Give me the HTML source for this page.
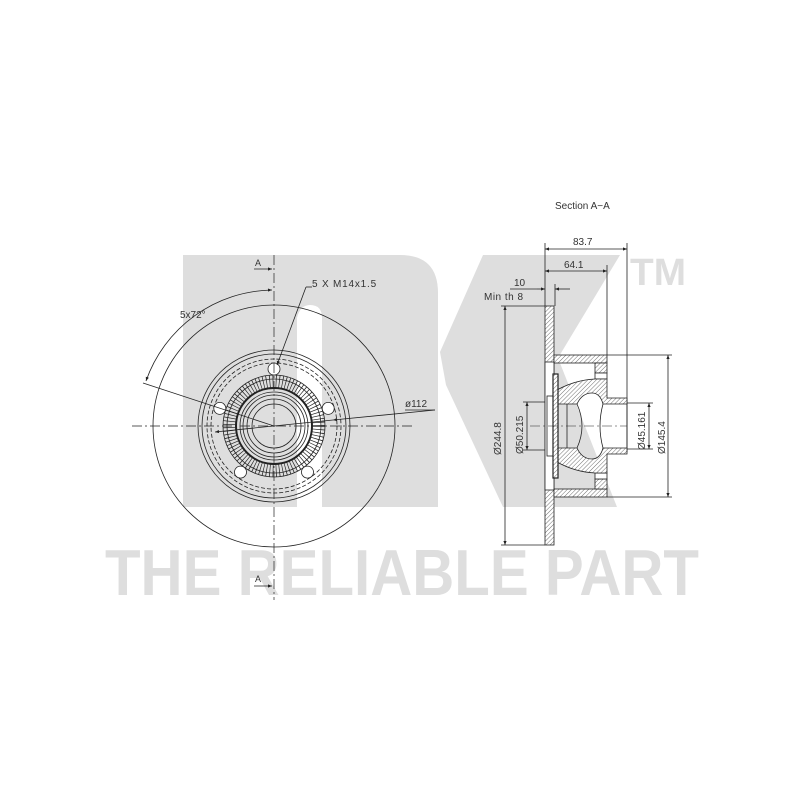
<!DOCTYPE html>
<html><head><meta charset="utf-8"><style>
html,body{margin:0;padding:0;background:#fff;}
svg{display:block;}
text{font-family:"Liberation Sans",sans-serif;}
</style></head><body>
<svg width="800" height="800" viewBox="0 0 800 800" xmlns="http://www.w3.org/2000/svg">
<defs>
<pattern id="h" width="3" height="3" patternUnits="userSpaceOnUse" patternTransform="rotate(45)">
<rect width="3" height="3" fill="#fff"/><line x1="0" y1="0" x2="0" y2="3" stroke="#333" stroke-width="0.7"/>
</pattern>
<marker id="ar" viewBox="0 0 10 10" refX="10" refY="5" markerWidth="7" markerHeight="5" orient="auto-start-reverse"><path d="M0,1 L10,5 L0,9 z" fill="#222"/></marker>
</defs>
<!-- watermark -->
<g fill="#dedede">
<path d="M183,255 H400 Q438,255 438,293 V507 H322 V318 Q322,305 310,305 Q300,305 297,318 V507 H183 Z"/>
<polygon points="483,255 620,255 558,358 617,507 503,507 446,385 440,352"/>
<text x="630" y="285" font-size="38" font-weight="bold" textLength="56" lengthAdjust="spacingAndGlyphs">TM</text>
<text x="105" y="595" font-size="65" font-weight="bold" textLength="594" lengthAdjust="spacingAndGlyphs">THE RELIABLE PART</text>
</g>
<g fill="none" stroke="#222" stroke-width="0.8">
<!-- left view -->
<circle cx="274" cy="426" r="121"/>
<circle cx="274" cy="426" r="76"/>
<circle cx="274" cy="426" r="72"/>
<circle cx="274" cy="426" r="67" stroke-dasharray="4 2"/>
<circle cx="274" cy="426" r="63" stroke-dasharray="4 2"/>
<circle cx="274" cy="426" r="44.5" stroke-dasharray="0.7 2.5" stroke-width="13"/>
<circle cx="274" cy="426" r="51"/>
<circle cx="274" cy="426" r="47"/>
<circle cx="274" cy="426" r="38" stroke-width="2"/>
<circle cx="274" cy="426" r="34"/>
<circle cx="274" cy="426" r="31"/>
<circle cx="274" cy="426" r="27"/>
<circle cx="274" cy="426" r="22"/>
<circle cx="274" cy="369" r="6" fill="#fff"/>
<circle cx="328.2" cy="408.4" r="6" fill="#fff"/>
<circle cx="307.5" cy="472.1" r="6" fill="#fff"/>
<circle cx="240.5" cy="472.1" r="6" fill="#fff"/>
<circle cx="219.8" cy="408.4" r="6" fill="#fff"/>
<!-- centerlines -->
<line x1="274" y1="255" x2="274" y2="600" stroke-dasharray="10 3 2 3" stroke-width="0.7"/>
<line x1="132" y1="426" x2="415" y2="426" stroke-dasharray="10 3 2 3" stroke-width="0.7"/>
<!-- A markers -->
<line x1="254" y1="269" x2="272" y2="269" marker-end="url(#ar)"/>
<line x1="254" y1="586" x2="272" y2="586" marker-end="url(#ar)"/>
<!-- 5x72 arc -->
<path d="M272,290 A136,136 0 0 0 146,381" marker-start="url(#ar)" marker-end="url(#ar)"/>
<line x1="143" y1="383" x2="274" y2="426"/>
<!-- M14 leader -->
<line x1="312" y1="287" x2="306" y2="287"/>
<line x1="306" y1="287" x2="277" y2="365" marker-end="url(#ar)"/>
<!-- ø112 -->
<line x1="435" y1="410" x2="333" y2="420" marker-end="url(#ar)"/>
<line x1="333" y1="420" x2="215" y2="432" marker-end="url(#ar)"/>
<line x1="405" y1="410" x2="435" y2="410"/>

<!-- right view dims -->
<line x1="545" y1="243" x2="545" y2="306"/>
<line x1="627" y1="243" x2="627" y2="452"/>
<line x1="545" y1="249" x2="627" y2="249" marker-start="url(#ar)" marker-end="url(#ar)"/>
<line x1="607" y1="265" x2="607" y2="355"/>
<line x1="545" y1="271" x2="607" y2="271" marker-start="url(#ar)" marker-end="url(#ar)"/>
<line x1="555" y1="284" x2="555" y2="306"/>
<line x1="537" y1="289" x2="545" y2="289" marker-end="url(#ar)"/>
<line x1="570" y1="289" x2="555" y2="289" marker-end="url(#ar)"/>
<line x1="510" y1="289" x2="537" y2="289"/>
<line x1="501" y1="306" x2="545" y2="306"/>
<line x1="501" y1="545" x2="545" y2="545"/>
<line x1="505" y1="306" x2="505" y2="545" marker-start="url(#ar)" marker-end="url(#ar)"/>
<line x1="523" y1="402" x2="548" y2="402"/>
<line x1="523" y1="450" x2="548" y2="450"/>
<line x1="527" y1="402" x2="527" y2="450" marker-start="url(#ar)" marker-end="url(#ar)"/>
<line x1="625" y1="403" x2="653" y2="403"/>
<line x1="625" y1="449" x2="653" y2="449"/>
<line x1="649" y1="403" x2="649" y2="449" marker-start="url(#ar)" marker-end="url(#ar)"/>
<line x1="607" y1="355" x2="672" y2="355"/>
<line x1="607" y1="497" x2="672" y2="497"/>
<line x1="668" y1="355" x2="668" y2="497" marker-start="url(#ar)" marker-end="url(#ar)"/>
</g>
<!-- section -->
<g stroke="#222" stroke-width="0.8">
<rect x="545" y="306" width="9" height="239" fill="url(#h)"/>
<rect x="545" y="362" width="9" height="128" fill="#fff"/>
<rect x="554" y="355" width="53" height="8" fill="url(#h)"/>
<rect x="554" y="489" width="53" height="8" fill="url(#h)"/>
<rect x="595" y="363" width="12" height="10" fill="url(#h)"/>
<rect x="595" y="479" width="12" height="10" fill="url(#h)"/>
<rect x="595" y="373" width="12" height="6" fill="#fff"/>
<rect x="595" y="473" width="12" height="6" fill="#fff"/>
<path d="M557,404 V390 Q575,380 595,379 H607 V398 H627 V404 H603 Q600,393 592,393 Q582,393 577,404 Z" fill="url(#h)"/>
<path d="M557,448 V462 Q575,472 595,473 H607 V454 H627 V448 H603 Q600,459 592,459 Q582,459 577,448 Z" fill="url(#h)"/>
<path d="M577,404 Q582,415 582,426 Q582,437 577,448" fill="none"/>
<path d="M603,404 Q600,415 600,426 Q600,437 603,448" fill="none"/>
<line x1="627" y1="404" x2="627" y2="448"/>
<line x1="567" y1="404" x2="567" y2="448"/>
<rect x="547" y="396" width="6" height="60" fill="#fff"/>
<rect x="553" y="374" width="5" height="104" fill="url(#h)" stroke-width="1.2"/>
<line x1="530" y1="426" x2="627" y2="426" stroke-dasharray="10 3 2 3" stroke-width="0.6"/>
</g>
<!-- labels -->
<g fill="#333" font-size="10">
<text x="555" y="209">Section  A−A</text>
<text x="573" y="245">83.7</text>
<text x="564" y="268">64.1</text>
<text x="514" y="286">10</text>
<text x="484" y="300" letter-spacing="0.5">Min  th  8</text>
<text x="255" y="266" font-size="9">A</text>
<text x="255" y="582" font-size="9">A</text>
<text x="312" y="287" letter-spacing="0.8">5  X  M14x1.5</text>
<text x="180" y="318">5x72°</text>
<text x="405" y="407">ø112</text>
<text transform="translate(501,455) rotate(-90)">Ø244.8</text>
<text transform="translate(523,454) rotate(-90)">Ø50.215</text>
<text transform="translate(645,450) rotate(-90)">Ø45.161</text>
<text transform="translate(665,454) rotate(-90)">Ø145.4</text>
</g>
</svg>
</body></html>
